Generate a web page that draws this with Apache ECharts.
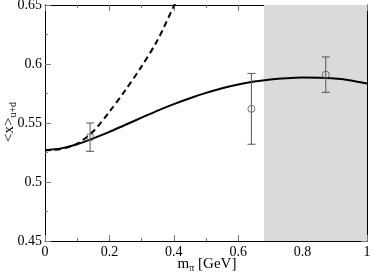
<!DOCTYPE html>
<html><head><meta charset="utf-8">
<script src="https://cdn.jsdelivr.net/npm/echarts@6/dist/echarts.min.js"></script>
<style>html,body{margin:0;padding:0;background:#fff}#c{width:371px;height:276px}</style>
</head><body><div id="c"></div>
<script>
// Solid curve (fit)
const curveX = [0,0.05,0.1,0.15,0.2,0.25,0.3,0.35,0.4,0.45,0.5,0.55,0.6,0.65,0.7,0.75,0.8,0.85,0.9,0.95,1.0];
const solidY = [0.527,0.5285,0.532,0.537,0.5425,0.5485,0.5545,0.5605,0.566,0.571,0.5755,0.5795,0.5827,0.5851,0.5869,0.588,0.5885,0.5884,0.5877,0.5861,0.5835];
// Dashed curve
const dashX = [0,0.05,0.1,0.15,0.2,0.25,0.3,0.35,0.4,0.42];
const dashY = [0.527,0.528,0.5325,0.543,0.5595,0.578,0.598,0.6205,0.649,0.660];
// Lattice points
const ptX = [0.14,0.641,0.872];
const ptY = [0.538,0.562,0.591];
const ptErr = [0.012,0.030,0.015];
const ptSymbol = ['rect','circle','circle'];
// Shaded band
const bandStart = 0.68, bandEnd = 1.0;
// Axis titles
const xTitle = '{m|m}{s|π}{m| [GeV]}';
const yTitle = '{m|<x>}{s|u+d}';

const font = 'Liberation Serif';
const chart = echarts.init(document.getElementById('c'));
const axisCommon = {
  type:'value',
  axisLine:{show:true,onZero:false,lineStyle:{color:'#000',width:1}},
  axisTick:{show:true,inside:true,length:6,lineStyle:{color:'#777',width:1}},
  minorTick:{show:true,splitNumber:2,length:3,lineStyle:{color:'#777',width:1}},
  splitLine:{show:false},minorSplitLine:{show:false}
};
const titleRich = {
  m:{fontFamily:font,fontSize:15,fill:'#000',color:'#000',verticalAlign:'top',lineHeight:16},
  s:{fontFamily:font,fontSize:10,fill:'#000',color:'#000',verticalAlign:'bottom',padding:[9,0,0,0],lineHeight:10}
};
chart.setOption({
  animation:false,
  grid:{left:45,right:4,top:5,bottom:35,containLabel:false,outerBoundsMode:'none'},
  graphic:[
    {type:'text',x:207,y:265,style:{text:xTitle,rich:titleRich,align:'center',verticalAlign:'middle',fill:'#000'}},
    {type:'text',x:10,y:122,rotation:Math.PI/2,style:{text:yTitle,rich:titleRich,align:'center',verticalAlign:'middle',fill:'#000'}}
  ],
  xAxis:[
    Object.assign({},axisCommon,{min:0,max:1,interval:0.2,position:'bottom',
      axisLabel:{show:true,margin:4,color:'#000',fontFamily:font,fontSize:14,formatter:v=>String(+v.toFixed(1))}}),
    Object.assign({},axisCommon,{min:0,max:1,interval:0.2,position:'top',axisLabel:{show:false}})
  ],
  yAxis:[
    Object.assign({},axisCommon,{min:0.45,max:0.65,interval:0.05,position:'left',
      axisLabel:{show:true,margin:3,color:'#000',fontFamily:font,fontSize:14,formatter:v=>String(+v.toFixed(2))}}),
    Object.assign({},axisCommon,{min:0.45,max:0.65,interval:0.05,position:'right',axisLabel:{show:false}})
  ],
  series:[
    {type:'line',data:[],markArea:{silent:true,itemStyle:{color:'#dadada'},data:[[{xAxis:bandStart},{xAxis:bandEnd}]]}},
    {type:'line',data:curveX.map((x,i)=>[x,solidY[i]]),smooth:0.3,showSymbol:false,clip:true,
      lineStyle:{color:'#000',width:2},z:3},
    {type:'line',data:dashX.map((x,i)=>[x,dashY[i]]),smooth:0.3,showSymbol:false,clip:true,
      lineStyle:{color:'#000',width:2,type:[6,4]},z:3},
    {type:'custom',z:4,data:ptX.map((x,i)=>[x,ptY[i]-ptErr[i],ptY[i]+ptErr[i]]),
      renderItem:function(params,api){
        const lo=api.coord([api.value(0),api.value(1)]);
        const hi=api.coord([api.value(0),api.value(2)]);
        const w=4, st={stroke:'#555',lineWidth:1};
        return {type:'group',children:[
          {type:'line',shape:{x1:lo[0],y1:lo[1],x2:hi[0],y2:hi[1]},style:st},
          {type:'line',shape:{x1:lo[0]-w,y1:lo[1],x2:lo[0]+w,y2:lo[1]},style:st},
          {type:'line',shape:{x1:hi[0]-w,y1:hi[1],x2:hi[0]+w,y2:hi[1]},style:st}
        ]};
      }},
    {type:'scatter',z:5,data:ptX.map((x,i)=>({value:[x,ptY[i]],symbol:ptSymbol[i],symbolSize:ptSymbol[i]==='rect'?6:7})),
      itemStyle:{color:'rgba(0,0,0,0)',borderColor:'#555',borderWidth:1}}
  ]
});
</script></body></html>
